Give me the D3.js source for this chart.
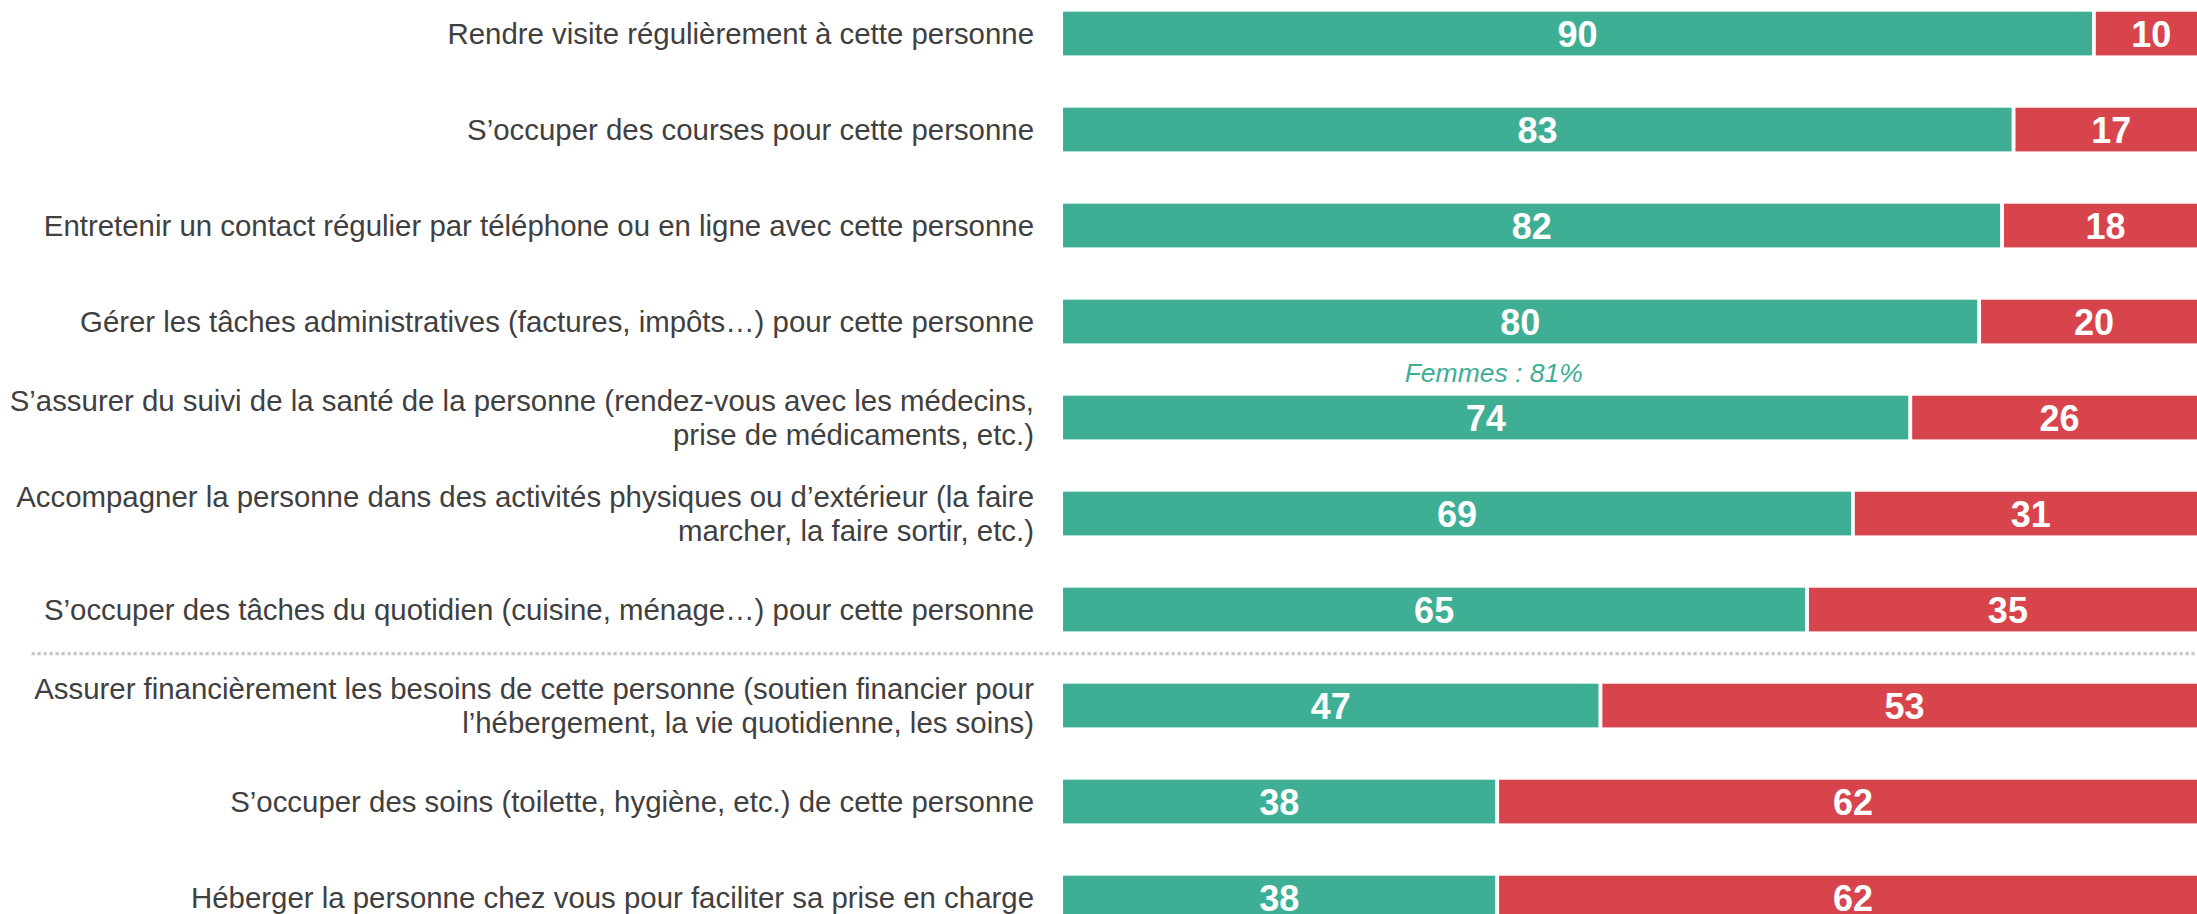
<!DOCTYPE html>
<html>
<head>
<meta charset="utf-8">
<script src="https://cdn.jsdelivr.net/npm/d3@7"></script>
<style>
  html, body { margin: 0; padding: 0; background: #ffffff; overflow: hidden; }
  svg { display: block; }
</style>
</head>
<body>
<svg id="chart" width="2197" height="914"></svg>
<script>
// ---- data ----
const categories = [
  "Rendre visite régulièrement à cette personne",
  "S’occuper des courses pour cette personne",
  "Entretenir un contact régulier par téléphone ou en ligne avec cette personne",
  "Gérer les tâches administratives (factures, impôts…) pour cette personne",
  "S’assurer du suivi de la santé de la personne (rendez-vous avec les médecins,|prise de médicaments, etc.)",
  "Accompagner la personne dans des activités physiques ou d’extérieur (la faire|marcher, la faire sortir, etc.)",
  "S’occuper des tâches du quotidien (cuisine, ménage…) pour cette personne",
  "Assurer financièrement les besoins de cette personne (soutien financier pour|l’hébergement, la vie quotidienne, les soins)",
  "S’occuper des soins (toilette, hygiène, etc.) de cette personne",
  "Héberger la personne chez vous pour faciliter sa prise en charge"
];
const greenValues = [90, 83, 82, 80, 74, 69, 65, 47, 38, 38];
const redValues   = [10, 17, 18, 20, 26, 31, 35, 53, 62, 62];
const annotations = [{ index: 4, text: "Femmes : 81%" }];
const separatorAfter = 6;

// ---- layout ----
const W = 2197, H = 914;
const GREEN = "#3eae95", RED = "#d8444b", LABEL = "#404040";
const svg = d3.select("#chart");

const x = d3.scaleLinear().domain([0, 100]).range([1061.2, 2208.7]);
const y = d3.scaleBand().domain(d3.range(categories.length))
  .range([-14.45, 945.55]).paddingInner(0.506).paddingOuter(0.253);

const rows = categories.map((c, i) => ({
  i, lines: c.split("|"), g: greenValues[i], r: redValues[i]
}));

// category labels
const labelFont = 29.4, lineH = 34;
rows.forEach(d => {
  const cy = y(d.i) + y.bandwidth() / 2;
  const n = d.lines.length;
  const t = svg.append("text")
    .attr("text-anchor", "end")
    .attr("font-family", "'Liberation Sans', Arial, sans-serif")
    .attr("font-size", labelFont)
    .attr("fill", LABEL);
  d.lines.forEach((ln, k) => {
    t.append("tspan")
      .attr("x", 1034)
      .attr("y", cy + 10.5 + (k - (n - 1) / 2) * lineH)
      .text(ln);
  });
});

// bars
const gBars = svg.append("g");
gBars.selectAll("rect.green").data(rows).join("rect")
  .attr("class", "green")
  .attr("x", x(0)).attr("y", d => y(d.i))
  .attr("width", d => x(d.g) - x(0)).attr("height", y.bandwidth())
  .attr("fill", GREEN).attr("stroke", "#ffffff").attr("stroke-width", 3.7);
gBars.selectAll("rect.red").data(rows).join("rect")
  .attr("class", "red")
  .attr("x", d => x(d.g)).attr("y", d => y(d.i))
  .attr("width", d => x(d.g + d.r) - x(d.g)).attr("height", y.bandwidth())
  .attr("fill", RED).attr("stroke", "#ffffff").attr("stroke-width", 3.7);

// value labels
const valFont = 36;
const vl = svg.append("g")
  .attr("font-family", "'Liberation Sans', Arial, sans-serif")
  .attr("font-weight", "bold").attr("font-size", valFont)
  .attr("fill", "#ffffff").attr("text-anchor", "middle");
vl.selectAll("text.gv").data(rows).join("text")
  .attr("x", d => (x(0) + x(d.g)) / 2)
  .attr("y", d => y(d.i) + y.bandwidth() / 2 + 13.5)
  .text(d => d.g);
vl.selectAll("text.rv").data(rows).join("text")
  .attr("x", d => (x(d.g) + x(d.g + d.r)) / 2)
  .attr("y", d => y(d.i) + y.bandwidth() / 2 + 13.5)
  .text(d => d.r);

// annotation
annotations.forEach(a => {
  svg.append("text")
    .attr("x", (x(0) + x(greenValues[a.index])) / 2 + 8)
    .attr("y", y(a.index) - 11.5)
    .attr("text-anchor", "middle")
    .attr("font-family", "'Liberation Sans', Arial, sans-serif")
    .attr("font-style", "italic").attr("font-size", 26.5)
    .attr("fill", GREEN)
    .text(a.text);
});

// separator
const sepY = (y(separatorAfter) + y.bandwidth() + y(separatorAfter + 1)) / 2 - 4;
svg.append("line")
  .attr("x1", 31.5).attr("x2", W).attr("y1", sepY).attr("y2", sepY)
  .attr("stroke", "#c8c8c8").attr("stroke-width", 3.3)
  .attr("stroke-dasharray", "3.3,2.7");
</script>
</body>
</html>
